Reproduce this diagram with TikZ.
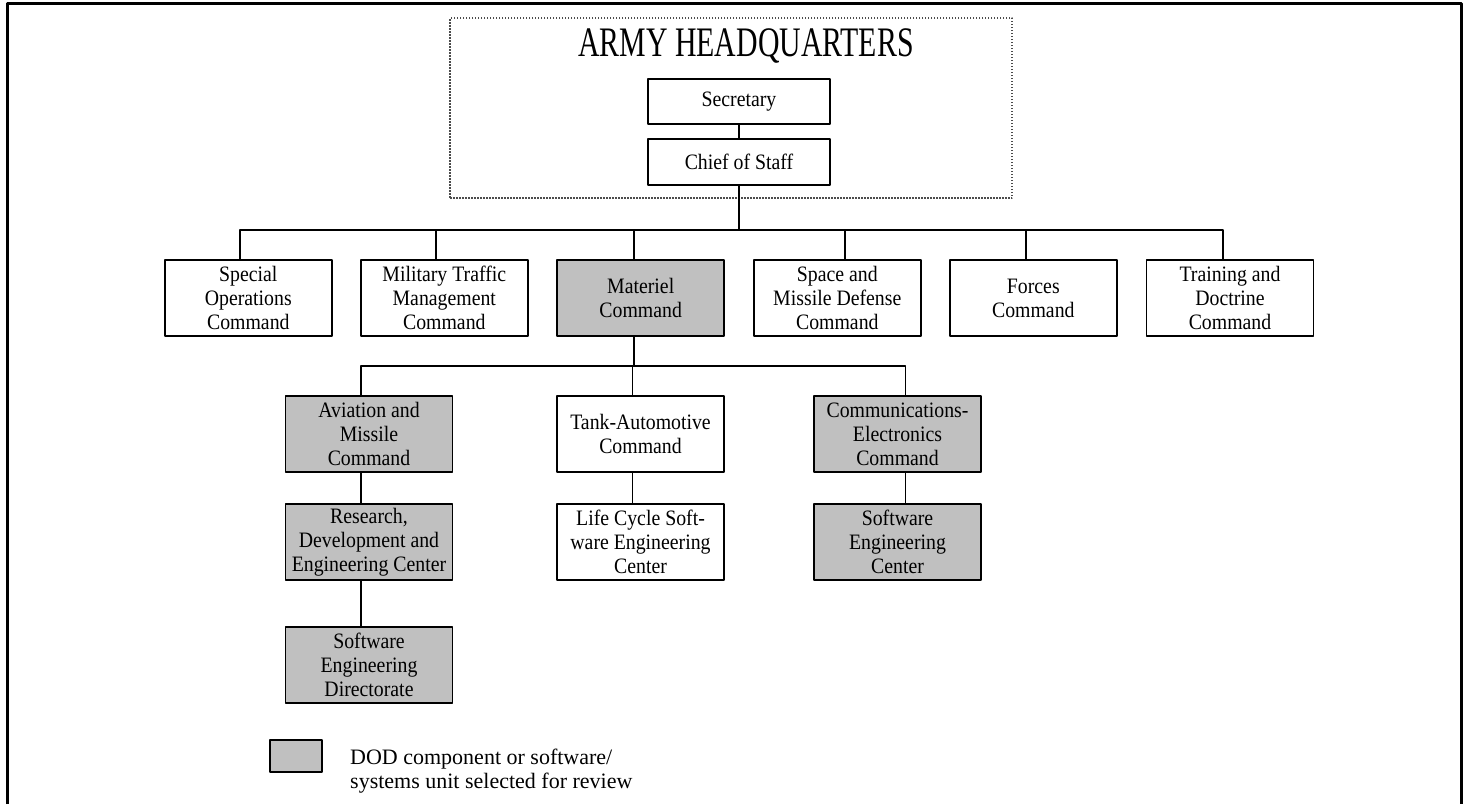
\documentclass[tikz,border=0pt]{standalone}
\usepackage{fontspec}
\setmainfont{Liberation Serif}[FakeStretch=0.9]
\newfontfamily\hqfont{Liberation Serif}[FakeStretch=0.71]
\newfontfamily\legfont{Liberation Serif}
\usepackage{tikz}
\usetikzlibrary{positioning}
\definecolor{selgray}{HTML}{C0C0C0}
\tikzset{
  unit/.style={draw,line width=1.8pt,minimum width=167,minimum height=76,inner sep=0pt,align=center,font=\fontsize{22}{24}\selectfont},
  selunit/.style={unit,fill=selgray},
  hqunit/.style={unit,minimum width=182,minimum height=45},
  link/.style={line width=1.8pt},
}
\begin{document}
\begin{tikzpicture}[line cap=round,line join=round,x=1pt,y=-1pt]
\useasboundingbox (0,0) rectangle (1467,804);
\draw[line width=3pt,line cap=butt] (7.5,804) -- (7.5,3) -- (1461,3) -- (1461,804);
\node[draw=black!70,line width=1.3pt,line cap=butt,dash pattern=on 1.5pt off 1.5pt,minimum width=562,minimum height=180,inner sep=0pt] (hq) at (731,108) {};
\node[anchor=base,inner sep=0pt,font=\hqfont\fontsize{42}{48}\selectfont] (hqtitle) at (746,56.7) {ARMY HEADQUARTERS};
\node[hqunit] (sec) at (739,101.5) {Secretary};
\node[hqunit,minimum height=46] (cos) at (739,162) {Chief of Staff};
\node[unit] (sp) at (248.3,298) {Special\\Operations\\Command};
\node[unit] (mtm) at (444.3,298) {Military Traffic\\Management\\Command};
\node[selunit] (mat) at (640.7,298) {Materiel\\Command};
\node[unit] (smd) at (837.3,298) {Space and\\Missile Defense\\Command};
\node[unit] (frc) at (1033.3,298) {Forces\\Command};
\node[unit] (trn) at (1230,298) {Training and\\Doctrine\\Command};
\node[selunit] (av) at (369,434) {Aviation and\\Missile\\Command};
\node[unit] (tac) at (640.5,434) {Tank-Automotive\\Command};
\node[selunit] (cec) at (897.5,434) {Communications-\\Electronics\\Command};
\node[selunit,below=30pt of av] (rdec) {Research,\\Development and\\Engineering Center};
\node[unit,below=30pt of tac] (lcsec) {Life Cycle Soft-\\ware Engineering\\Center};
\node[selunit,below=30pt of cec] (sec2) {Software\\Engineering\\Center};
\node[selunit,below=45pt of rdec] (sed) {Software\\Engineering\\Directorate};
\node[selunit,minimum width=52,minimum height=32] (key) at (296,756) {};
\node[anchor=west,align=left,inner sep=0pt,font=\legfont\fontsize{22}{24}\selectfont] (keytxt) at (350,771) {DOD component or software/\\systems unit selected for review};
\coordinate (bus1) at (739,230);
\coordinate (bus2) at (633,366);
\draw[link] (sec) -- (cos);
\draw[link] (cos.south) -- (cos.south |- bus1);
\draw[link] ([xshift=-8]sp.north) |- ([xshift=-7]trn.north |- bus1) -- ([xshift=-7]trn.north);
\foreach \n/\s in {mtm/-8,mat/-7,smd/8,frc/-7}
  \draw[link] ([xshift=\s]\n.north) -- ([xshift=\s]\n.north |- bus1);
\draw[link] ([xshift=-7]mat.south) -- ([xshift=-7]mat.south |- bus2);
\draw[link] ([xshift=-8]av.north) |- ([xshift=8]cec.north |- bus2) -- ([xshift=8]cec.north);
\draw[link] ([xshift=-8]tac.north) -- ([xshift=-8]tac.north |- bus2);
\draw[link] ([xshift=-8]av.south) -- ([xshift=-8]rdec.north);
\draw[link] ([xshift=-8]rdec.south) -- ([xshift=-8]sed.north);
\draw[link] ([xshift=-8]tac.south) -- ([xshift=-8]lcsec.north);
\draw[link] ([xshift=8]cec.south) -- ([xshift=8]sec2.north);
\end{tikzpicture}
\end{document}
